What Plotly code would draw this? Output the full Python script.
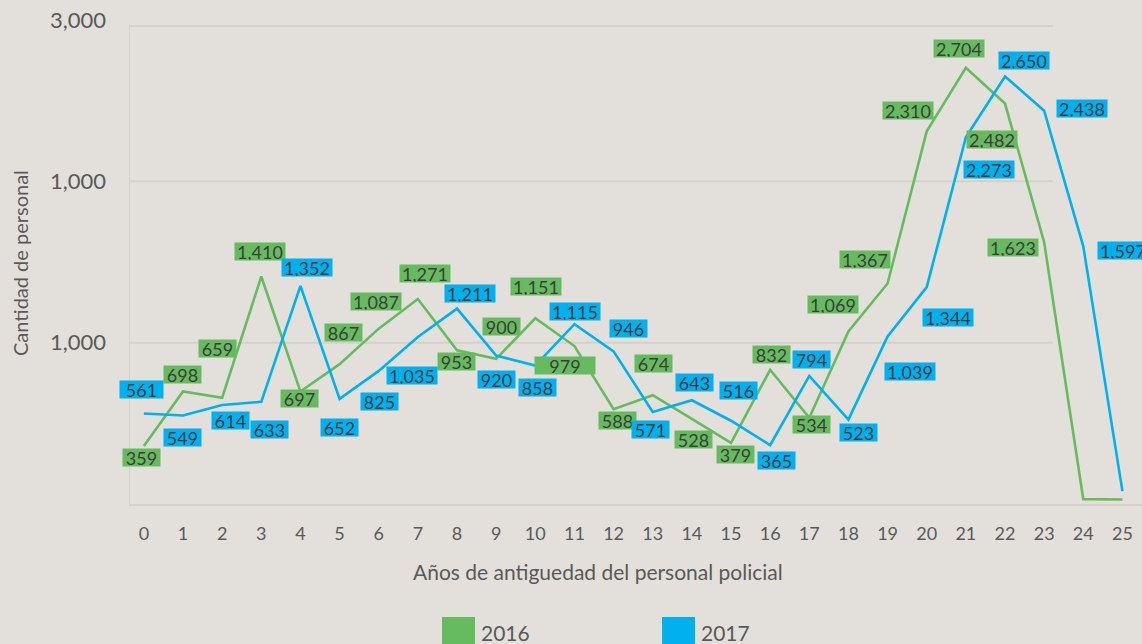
import plotly.graph_objects as go

# ---- data ----
years = list(range(26))
tick_labels = [str(y) for y in years]
v2016 = [359, 698, 659, 1410, 697, 867, 1087, 1271, 953, 900, 1151, 979, 588, 674,
         528, 379, 832, 534, 1069, 1367, 2310, 2704, 2482, 1623, 30, 28]
v2017 = [561, 549, 614, 633, 1352, 652, 825, 1035, 1211, 920, 858, 1115, 946, 571,
         643, 516, 365, 794, 523, 1039, 1344, 2273, 2650, 2438, 1597, 80]
ytick_vals = [1000, 2000, 3000]
ytick_text = ["1,000", "1,000", "3,000"]
series_names = ["2016", "2017"]

# ---- style ----
GREEN = "#66bb5f"
BLUE = "#00b0ef"
BG = "#e3e0dc"
GRID = "#d4d0cb"
TXT = "#595959"
LBL = "#3d3d3d"
FONT = "Lato"

# label offsets in pixels (dx, dy-down); None = no label
off2016 = [(-2, 11), (-1, -17), (-5, -49), (-1, -25), (-1, 7), (4, -32), (-3, -27),
           (7, -25), (-1, 11), (5, -32), (1, -32), (-9, 19), (4, 11), (1, -32),
           (2, 21), (4, 12), (1, -15), (2, 7), (-15, -27), (-23, -24), (-19, -21),
           (-7, -19), (-13, 36), (-31, 5), None, None]
off2017 = [(-2, -24), (-1, 22), (8, 16), (8, 28), (7, -18), (0, 29), (1, 31),
           (-6, 38), (13, -15), (0, 24), (2, 22), (1, -13), (15, -23), (-2, 18),
           (3, -18), (7, -30), (6, 15), (2, -16), (10, 13), (22, 35), (21, 30),
           (23, 32), (19, -16), (38, -2), (40, 4), None]
wide2016 = {11: 60}
wide2017 = {0: 43}

fig = go.Figure()
for name, vals, col in [(series_names[0], v2016, GREEN), (series_names[1], v2017, BLUE)]:
    fig.add_trace(go.Scatter(x=years, y=vals, mode="lines", name=name,
                             line=dict(color=col, width=2.6), showlegend=False,
                             hoverinfo="skip"))

annotations = []
for vals, offs, col, wide in [(v2016, off2016, GREEN, wide2016), (v2017, off2017, BLUE, wide2017)]:
    for i, (v, o) in enumerate(zip(vals, offs)):
        if o is None:
            continue
        txt = f"{v:,}"
        w = wide.get(i, 37 if len(txt) <= 3 else 50)
        annotations.append(dict(x=years[i], y=v, xref="x", yref="y", text=txt,
                                showarrow=False, xshift=o[0], yshift=-o[1],
                                bgcolor=col, borderpad=0, width=w, height=17,
                                font=dict(family=FONT, size=18, color=LBL)))

# axis titles
annotations.append(dict(text="Años de antiguedad del personal policial", xref="paper", yref="paper",
                        x=(598 - 129) / 1013, y=-(571 - 504) / 484, showarrow=False,
                        xanchor="center", yanchor="middle",
                        font=dict(family=FONT, size=21, color=TXT)))
annotations.append(dict(text="Cantidad de personal", xref="paper", yref="paper",
                        x=(20 - 129) / 1013, y=(504 - 263) / 484, showarrow=False,
                        textangle=-90, xanchor="center", yanchor="middle",
                        font=dict(family=FONT, size=20, color=TXT)))

# legend (drawn)
shapes = []
for name, col, x0 in [(series_names[0], GREEN, 442), (series_names[1], BLUE, 662)]:
    shapes.append(dict(type="rect", xref="paper", yref="paper",
                       x0=(x0 - 129) / 1013, x1=(x0 + 33 - 129) / 1013,
                       y0=-(650 - 504) / 484, y1=-(617 - 504) / 484,
                       fillcolor=col, line=dict(width=0)))
    annotations.append(dict(text=name, xref="paper", yref="paper",
                            x=(x0 + 37 - 129) / 1013, y=-(632 - 504) / 484,
                            showarrow=False, xanchor="left", yanchor="middle",
                            font=dict(family=FONT, size=21, color=TXT)))

# gridlines (end before the right side, as in the reference)
grid_end = 23.22
for gy in [1000, 2000, 2963]:
    shapes.append(dict(type="line", xref="x", yref="y", x0=-0.38, x1=grid_end, y0=gy, y1=gy,
                       line=dict(color=GRID, width=2), layer="below"))
shapes.append(dict(type="line", xref="x", yref="y", x0=-0.38, x1=-0.38, y0=0, y1=2963,
                   line=dict(color=GRID, width=2), layer="below"))

fig.update_layout(
    width=1142, height=644,
    margin=dict(l=129, r=0, t=20, b=140),
    paper_bgcolor=BG, plot_bgcolor=BG,
    font=dict(family=FONT, color=TXT),
    showlegend=False,
    annotations=annotations,
    shapes=shapes,
    xaxis=dict(range=[-0.38, 25.5], tickmode="array", tickvals=years, ticktext=tick_labels,
               showgrid=False, zeroline=False, showline=True, linecolor=GRID, linewidth=2,
               ticks="", ticklabelstandoff=12, tickfont=dict(family=FONT, size=18, color=TXT)),
    yaxis=dict(range=[0, 3000], tickmode="array", tickvals=ytick_vals, ticktext=ytick_text,
               showgrid=False, zeroline=False, showline=False, ticks="",
               ticklabelstandoff=22, tickfont=dict(family=FONT, size=22, color=TXT)),
)

fig.write_html("out.html", config={"displayModeBar": False},
               post_script="document.body.style.margin='0';document.body.style.overflow='hidden';")
